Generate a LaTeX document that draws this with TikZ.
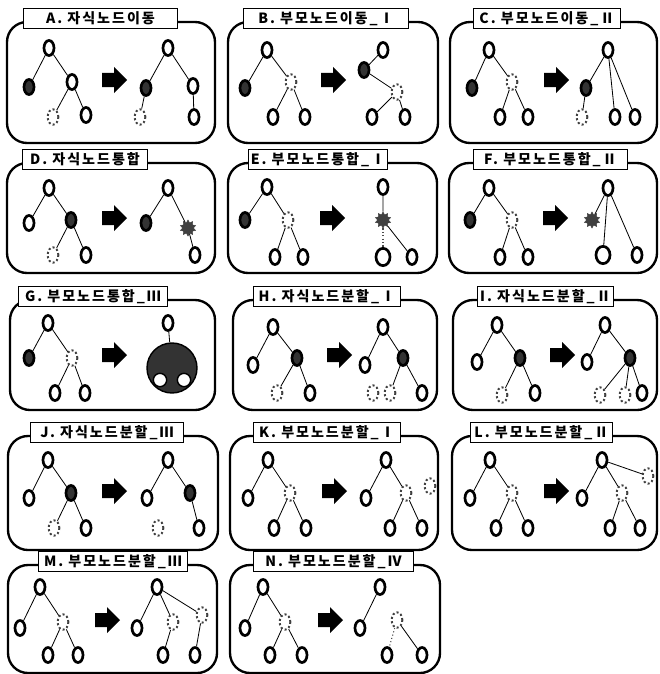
\documentclass[tikz,border=0pt]{standalone}
\usepackage{fontspec}
\newfontfamily\krfont{Noto Sans CJK KR}[LetterSpace=14]
\usetikzlibrary{shapes.geometric}
\tikzset{
  panel/.style={rounded corners=0.6cm,line width=2pt,draw=black},
  titlebox/.style={rectangle,draw=black,line width=0.8pt,fill=white,anchor=north west,
    minimum height=0.6cm,inner sep=0pt,font=\krfont\bfseries\fontsize{12}{14}\selectfont},
  nd/.style={ellipse,draw=black,line width=2.3pt,fill=white,minimum width=0.3cm,minimum height=0.45cm,inner sep=0pt},
  ndfill/.style={nd,fill=black!80},
  nddot/.style={ellipse,draw=black!75,dotted,line width=1.7pt,minimum width=0.32cm,minimum height=0.46cm,inner sep=0pt},
  ndbig/.style={nd,minimum width=0.42cm,minimum height=0.52cm},
  ndmerge/.style={star,star points=10,star point ratio=1.5,fill=black!75,draw=black!75,minimum size=0.48cm,inner sep=0pt},
  blob/.style={circle,fill=black!80,draw=black,line width=1.2pt,minimum size=1.5cm},
  hole/.style={circle,draw=black,fill=white,line width=1.2pt,minimum size=0.4cm},
  link/.style={line width=0.7pt},
  linkdot/.style={line width=0.9pt,dotted,draw=black!70},
  fatarrow/.pic={\fill (-12,-7) -- (0,-7) -- (0,-13) -- (13,0) -- (0,13) -- (0,7) -- (-12,7) -- cycle;},
}
\begin{document}
\begin{tikzpicture}[x=0.03cm,y=-0.03cm]
\useasboundingbox (0,0) rectangle (659,674);
% frames and titles
\foreach \nm/\px/\py/\pw/\ph/\tx/\tw/\tt in {
  A/7/22/208/121/16/154/{A. 자식노드이동},
  B/228/22/210/121/15/165/{B. 부모노드이동\_Ⅰ},
  C/450/22/207/121/23/147/{C. 부모노드이동\_Ⅱ},
  D/7/163/208/110/15/125/{D. 자식노드통합},
  E/228/163/209/110/20/139/{E. 부모노드통합\_Ⅰ},
  F/449/163/208/110/24/154/{F. 부모노드통합\_Ⅱ},
  G/10/300/205/110/8/149/{G. 부모노드통합\_Ⅲ},
  H/233/300/204/110/20/147/{H. 자식노드분할\_Ⅰ},
  I/453/300/204/110/24/136/{I. 자식노드분할\_Ⅱ},
  J/8/436/210/114/22/153/{J. 자식노드분할\_Ⅲ},
  K/230/436/208/114/23/147/{K. 부모노드분할\_Ⅰ},
  L/452/436/205/114/18/142/{L. 부모노드분할\_Ⅱ},
  M/8/565/209/108/30/149/{M. 부모노드분할\_Ⅲ},
  N/230/565/210/108/23/160/{N. 부모노드분할\_Ⅳ}}{
  \begin{scope}[shift={(\px,\py)}]
    \draw[panel] (0,0) rectangle (\pw,\ph);
    \node[titlebox,minimum width=\tw*0.03cm] (title\nm) at (\tx,-14) {\tt};
  \end{scope}
}

% A. child node move
\begin{scope}[shift={(7,22)}]
\node[nd] (Ar) at (42,26) {};
\node[ndfill] (Aa) at (22,65) {};
\node[nd] (Ab) at (65,60) {};
\node[nddot] (Ac) at (46,95) {};
\node[nd] (Ad) at (79,93) {};
\draw[link] (Ar) -- (Aa) (Ar) -- (Ab) (Ab) -- (Ac) (Ab) -- (Ad);
\pic at (107,58) {fatarrow};
\node[nd] (Ar2) at (161,26) {};
\node[ndfill] (Aa2) at (139,66) {};
\node[nd] (Ab2) at (186,64) {};
\node[nddot] (Ac2) at (133,95) {};
\node[nd] (Ad2) at (187,95) {};
\draw[link] (Ar2) -- (Aa2) (Ar2) -- (Ab2) (Aa2) -- (Ac2) (Ab2) -- (Ad2);
\end{scope}

% B. parent node move I
\begin{scope}[shift={(228,22)}]
\node[nd] (Br) at (39,28) {};
\node[ndfill] (Ba) at (17,66) {};
\node[nddot] (Bb) at (63,60) {};
\node[nd] (Bc) at (45,95) {};
\node[nd] (Bd) at (77,95) {};
\draw[link] (Br) -- (Ba) (Br) -- (Bb) (Bb) -- (Bc) (Bb) -- (Bd);
\pic at (105,58) {fatarrow};
\node[nd] (Br2) at (155,28) {};
\node[ndfill] (Ba2) at (136,48) {};
\node[nddot] (Bb2) at (169,70) {};
\node[nd] (Bc2) at (144,95) {};
\node[nd] (Bd2) at (177,95) {};
\draw[link] (Br2) -- (Ba2) (Ba2) -- (Bb2) (Bb2) -- (Bc2) (Bb2) -- (Bd2);
\end{scope}

% C. parent node move II
\begin{scope}[shift={(450,22)}]
\node[nd] (Cr) at (39,28) {};
\node[ndfill] (Ca) at (22,66) {};
\node[nddot] (Cb) at (62,60) {};
\node[nd] (Cc) at (50,95) {};
\node[nd] (Cd) at (78,95) {};
\draw[link] (Cr) -- (Ca) (Cr) -- (Cb) (Cb) -- (Cc) (Cb) -- (Cd);
\pic at (106,58) {fatarrow};
\node[nd] (Cr2) at (158,28) {};
\node[ndfill] (Ca2) at (136,66) {};
\node[nddot] (Cc2) at (132,95) {};
\node[nd] (Cd2) at (165,95) {};
\node[nd] (Ce2) at (185,95) {};
\draw[link] (Cr2) -- (Ca2) (Ca2) -- (Cc2) (Cr2) -- (Cd2) (Cr2) -- (Ce2);
\end{scope}

% D. child node merge
\begin{scope}[shift={(7,163)}]
\node[nd] (Dr) at (42,25) {};
\node[nd] (Da) at (22,60) {};
\node[ndfill] (Db) at (64,57) {};
\node[nddot] (Dc) at (46,92) {};
\node[nd] (Dd) at (79,92) {};
\draw[link] (Dr) -- (Da) (Dr) -- (Db) (Db) -- (Dc) (Db) -- (Dd);
\pic at (107,55) {fatarrow};
\node[nd] (Dr2) at (161,25) {};
\node[ndfill] (Da2) at (139,60) {};
\node[ndmerge] (Db2) at (181,65) {};
\node[nd] (Dd2) at (188,92) {};
\draw[link] (Dr2) -- (Da2) (Dr2) -- (Db2) (Db2) -- (Dd2);
\end{scope}

% E. parent node merge I
\begin{scope}[shift={(228,163)}]
\node[nd] (Er) at (39,24) {};
\node[ndfill] (Ea) at (17,57) {};
\node[nddot] (Eb) at (60,57) {};
\node[nd] (Ec) at (47,94) {};
\node[nd] (Ed) at (75,94) {};
\draw[link] (Er) -- (Ea) (Er) -- (Eb) (Eb) -- (Ec) (Eb) -- (Ed);
\pic at (104,55) {fatarrow};
\node[nd] (Er2) at (155,24) {};
\node[ndmerge] (Eb2) at (155,57) {};
\node[ndbig] (Ec2) at (155,94) {};
\node[nd] (Ed2) at (184,94) {};
\draw[link] (Er2) -- (Eb2) (Eb2) -- (Ed2);
\draw[linkdot] (Eb2) -- (Ec2);
\end{scope}

% F. parent node merge II
\begin{scope}[shift={(449,163)}]
\node[nd] (Fr) at (40,25) {};
\node[ndfill] (Fa) at (21,57) {};
\node[nddot] (Fb) at (63,57) {};
\node[nd] (Fc) at (51,94) {};
\node[nd] (Fd) at (79,94) {};
\draw[link] (Fr) -- (Fa) (Fr) -- (Fb) (Fb) -- (Fc) (Fb) -- (Fd);
\pic at (106,55) {fatarrow};
\node[nd] (Fr2) at (159,25) {};
\node[ndmerge] (Fb2) at (143,57) {};
\node[ndbig] (Fc2) at (154,92) {};
\node[nd] (Fd2) at (188,92) {};
\draw[link] (Fr2) -- (Fb2) (Fr2) -- (Fc2) (Fr2) -- (Fd2);
\end{scope}

% G. parent node merge III
\begin{scope}[shift={(10,300)}]
\node[nd] (Gr) at (38,23) {};
\node[ndfill] (Ga) at (19,58) {};
\node[nddot] (Gb) at (62,58) {};
\node[nd] (Gc) at (45,93) {};
\node[nd] (Gd) at (75,93) {};
\draw[link] (Gr) -- (Ga) (Gr) -- (Gb) (Gb) -- (Gc) (Gb) -- (Gd);
\pic at (104,55) {fatarrow};
\node[nd] (Gr2) at (158,23) {};
\node[blob] (Gblob) at (162,68) {};
\node[hole] (Gw1) at (150,80) {};
\node[hole] (Gw2) at (174,80) {};
\draw[link] (Gr2) -- (Gblob);
\end{scope}

% H. child node split I
\begin{scope}[shift={(233,300)}]
\node[nd] (Hr) at (40,27) {};
\node[nd] (Ha) at (20,65) {};
\node[ndfill] (Hb) at (64,58) {};
\node[nddot] (Hc) at (44,93) {};
\node[nd] (Hd) at (77,93) {};
\draw[link] (Hr) -- (Ha) (Hr) -- (Hb) (Hb) -- (Hc) (Hb) -- (Hd);
\pic at (106,55) {fatarrow};
\node[nd] (Hr2) at (150,27) {};
\node[nd] (Ha2) at (132,65) {};
\node[ndfill] (Hb2) at (170,58) {};
\node[nddot] (Hc2) at (140,93) {};
\node[nddot] (He2) at (157,93) {};
\node[nd] (Hd2) at (189,93) {};
\draw[link] (Hr2) -- (Ha2) (Hr2) -- (Hb2) (Hb2) -- (He2) (Hb2) -- (Hd2);
\end{scope}

% I. child node split II
\begin{scope}[shift={(453,300)}]
\node[nd] (Ir) at (44,25) {};
\node[nd] (Ia) at (24,62) {};
\node[ndfill] (Ib) at (67,58) {};
\node[nddot] (Ic) at (49,95) {};
\node[nd] (Id) at (82,93) {};
\draw[link] (Ir) -- (Ia) (Ir) -- (Ib) (Ib) -- (Ic) (Ib) -- (Id);
\pic at (109,55) {fatarrow};
\node[nd] (Ir2) at (152,25) {};
\node[nd] (Ia2) at (134,62) {};
\node[ndfill] (Ib2) at (177,58) {};
\node[nddot] (Ic2) at (147,95) {};
\node[nddot] (Ie2) at (172,95) {};
\node[nd] (Id2) at (189,93) {};
\draw[link] (Ir2) -- (Ia2) (Ir2) -- (Ib2) (Ib2) -- (Ic2) (Ib2) -- (Ie2) (Ib2) -- (Id2);
\end{scope}

% J. child node split III
\begin{scope}[shift={(8,436)}]
\node[nd] (Jr) at (40,24) {};
\node[nd] (Ja) at (21,62) {};
\node[ndfill] (Jb) at (63,57) {};
\node[nddot] (Jc) at (46,92) {};
\node[nd] (Jd) at (78,92) {};
\draw[link] (Jr) -- (Ja) (Jr) -- (Jb) (Jb) -- (Jc) (Jb) -- (Jd);
\pic at (106,55) {fatarrow};
\node[nd] (Jr2) at (160,24) {};
\node[nd] (Ja2) at (139,62) {};
\node[ndfill] (Jb2) at (182,57) {};
\node[nddot] (Jc2) at (150,92) {};
\node[nd] (Jd2) at (191,92) {};
\draw[link] (Jr2) -- (Ja2) (Jr2) -- (Jb2) (Jb2) -- (Jd2);
\end{scope}

% K. parent node split I
\begin{scope}[shift={(230,436)}]
\node[nd] (Kr) at (38,24) {};
\node[nd] (Ka) at (18,62) {};
\node[nddot] (Kb) at (60,57) {};
\node[nd] (Kc) at (44,92) {};
\node[nd] (Kd) at (76,92) {};
\draw[link] (Kr) -- (Ka) (Kr) -- (Kb) (Kb) -- (Kc) (Kb) -- (Kd);
\pic at (104,55) {fatarrow};
\node[nd] (Kr2) at (156,24) {};
\node[nd] (Ka2) at (136,62) {};
\node[nddot] (Kb2) at (176,57) {};
\node[nd] (Kc2) at (160,92) {};
\node[nd] (Kd2) at (192,92) {};
\node[nddot] (Ke2) at (200,50) {};
\draw[link] (Kr2) -- (Ka2) (Kr2) -- (Kb2) (Kb2) -- (Kc2) (Kb2) -- (Kd2);
\end{scope}

% L. parent node split II
\begin{scope}[shift={(452,436)}]
\node[nd] (Lr) at (38,24) {};
\node[nd] (La) at (18,62) {};
\node[nddot] (Lb) at (60,57) {};
\node[nd] (Lc) at (44,92) {};
\node[nd] (Ld) at (76,92) {};
\draw[link] (Lr) -- (La) (Lr) -- (Lb) (Lb) -- (Lc) (Lb) -- (Ld);
\pic at (104,55) {fatarrow};
\node[nd] (Lr2) at (150,24) {};
\node[nd] (La2) at (130,62) {};
\node[nddot] (Lb2) at (170,57) {};
\node[nd] (Lc2) at (158,92) {};
\node[nd] (Ld2) at (188,92) {};
\node[nddot] (Le2) at (196,40) {};
\draw[link] (Lr2) -- (La2) (Lr2) -- (Lb2) (Lr2) -- (Le2) (Lb2) -- (Lc2) (Lb2) -- (Ld2);
\end{scope}

% M. parent node split III
\begin{scope}[shift={(8,565)}]
\node[nd] (Mr) at (32,22) {};
\node[nd] (Ma) at (12,63) {};
\node[nddot] (Mb) at (55,57) {};
\node[nd] (Mc) at (40,90) {};
\node[nd] (Md) at (70,90) {};
\draw[link] (Mr) -- (Ma) (Mr) -- (Mb) (Mb) -- (Mc) (Mb) -- (Md);
\pic at (99,55) {fatarrow};
\node[nd] (Mr2) at (149,22) {};
\node[nd] (Ma2) at (129,63) {};
\node[nddot] (Mb2) at (165,57) {};
\node[nddot] (Me2) at (194,50) {};
\node[nd] (Mc2) at (155,90) {};
\node[nd] (Md2) at (187,90) {};
\draw[link] (Mr2) -- (Ma2) (Mr2) -- (Mb2) (Mr2) -- (Me2) (Mb2) -- (Mc2) (Me2) -- (Md2);
\end{scope}

% N. parent node split IV
\begin{scope}[shift={(230,565)}]
\node[nd] (Nr) at (33,22) {};
\node[nd] (Na) at (15,63) {};
\node[nddot] (Nb) at (55,57) {};
\node[nd] (Nc) at (40,90) {};
\node[nd] (Nd) at (72,90) {};
\draw[link] (Nr) -- (Na) (Nr) -- (Nb) (Nb) -- (Nc) (Nb) -- (Nd);
\pic at (100,55) {fatarrow};
\node[nd] (Nr2) at (150,22) {};
\node[nd] (Na2) at (130,63) {};
\node[nddot] (Nb2) at (167,55) {};
\node[nd] (Nc2) at (157,90) {};
\node[nd] (Nd2) at (192,90) {};
\draw[link] (Nr2) -- (Na2) (Nb2) -- (Nd2);
\draw[linkdot] (Nb2) -- (Nc2);
\end{scope}
\end{tikzpicture}
\end{document}
